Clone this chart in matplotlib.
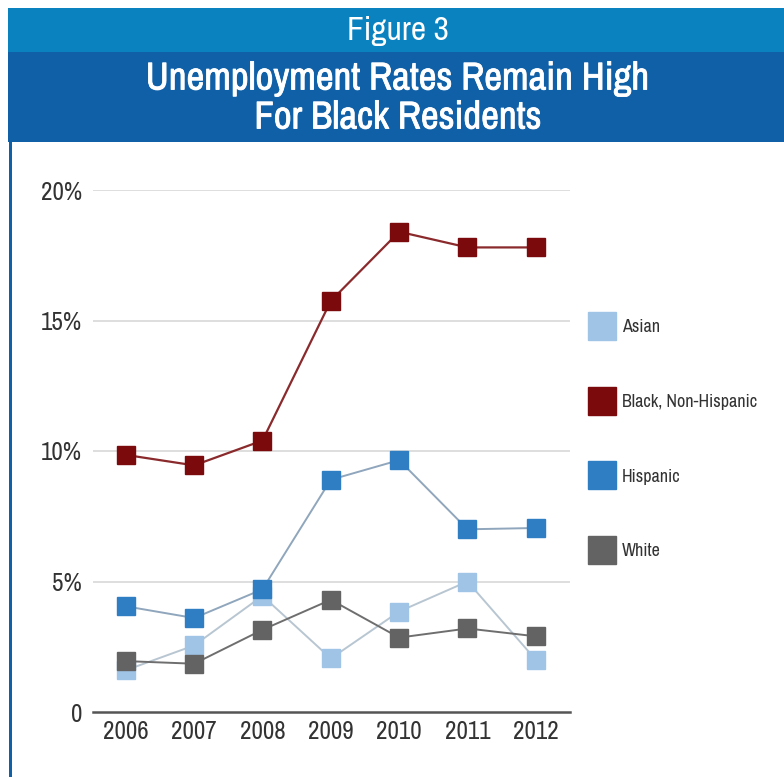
import matplotlib
matplotlib.use("Agg")
import matplotlib.pyplot as plt
from matplotlib.patches import Rectangle
from matplotlib.lines import Line2D
from matplotlib import font_manager
import matplotlib.patheffects as pe

years = ["2006", "2007", "2008", "2009", "2010", "2011", "2012"]
asian = [1.6, 2.55, 4.45, 2.05, 3.85, 5.0, 2.0]
black = [9.85, 9.45, 10.4, 15.75, 18.4, 17.8, 17.8]
hispanic = [4.05, 3.6, 4.7, 8.9, 9.65, 7.0, 7.05]
white = [1.95, 1.85, 3.15, 4.3, 2.85, 3.2, 2.9]
series_names = ["Asian", "Black, Non-Hispanic", "Hispanic", "White"]
ytick_vals = [0, 5, 10, 15, 20]
ytick_labels = ["0", "5%", "10%", "15%", "20%"]

# find a condensed font if any is installed
cond = None
for f in font_manager.fontManager.ttflist:
    n = f.name
    if ("Condensed" in n or "Narrow" in n) and f.style == "normal":
        cond = n
        break
if cond is None:
    for f in font_manager.fontManager.ttflist:
        if f.stretch in ("condensed", "semi-condensed") or (isinstance(f.stretch, int) and f.stretch < 500):
            cond = f.name
            break
narrow = [cond, "DejaVu Sans"] if cond else ["DejaVu Sans"]
stretch = "condensed"

W, H = 784, 777
fig = plt.figure(figsize=(W / 100, H / 100), dpi=100)
fig.patch.set_facecolor("white")

# header bands
fig.add_artist(Rectangle((8 / W, 1 - 52 / H), 1 - 8 / W, 44 / H, transform=fig.transFigure,
                         facecolor="#0a82c0", edgecolor="none"))
fig.add_artist(Rectangle((8 / W, 1 - 142 / H), 1 - 8 / W, 90 / H, transform=fig.transFigure,
                         facecolor="#1060a8", edgecolor="none"))
fig.add_artist(Rectangle((9 / W, 0), 3 / W, 1 - 142 / H, transform=fig.transFigure,
                         facecolor="#1060a8", edgecolor="none"))
fig.text(398 / W, 1 - 31 / H, "Figure 3", color="white", fontsize=24, ha="center", va="center",
         family=narrow, fontstretch=stretch)
bold_fx = [pe.withStroke(linewidth=0.6, foreground="white")]
fig.text(398 / W, 1 - 79 / H, "Unemployment Rates Remain High", color="white",
         fontsize=28, ha="center", va="center", family=narrow, fontstretch=stretch,
         fontweight="medium", path_effects=bold_fx)
fig.text(398 / W, 1 - 118 / H, "For Black Residents", color="white",
         fontsize=28, ha="center", va="center", family=narrow, fontstretch=stretch,
         fontweight="medium", path_effects=bold_fx)

ax = fig.add_axes([93 / W, 1 - 712 / H, (570 - 93) / W, (712 - 190) / H])
x = list(range(len(years)))
colors = ["#9fc4e6", "#7a0a0c", "#2f7ec3", "#636363"]
linecolors = ["#b8c6d2", "#8a2a2c", "#8fa6bc", "#6e6e6e"]
data = [asian, black, hispanic, white]
order = [0, 3, 2, 1]
for i in order:
    ax.plot(x, data[i], color=linecolors[i], lw=1.6 if i == 1 else 1.4, zorder=2 + i)
    ax.plot(x, data[i], ls="none", marker="s", markersize=12.5, color=colors[i],
            markeredgecolor=colors[i], zorder=3 + i)

ax.set_xlim(-0.48, 6.5)
ax.set_ylim(0, 20)
ax.set_xticks(x)
ax.set_xticklabels(years, family=narrow, fontstretch=stretch, fontsize=18, color="#333333")
ax.set_yticks(ytick_vals)
ax.set_yticklabels(ytick_labels, family=narrow, fontstretch=stretch, fontsize=18, color="#333333")
ax.tick_params(length=0, pad=8)
ax.tick_params(axis="x", pad=6)
for y in ytick_vals[1:]:
    ax.axhline(y, color="#d8d8d8", lw=1.2, zorder=0)
for s in ["top", "right", "left"]:
    ax.spines[s].set_visible(False)
ax.spines["bottom"].set_color("#555555")
ax.spines["bottom"].set_linewidth(1.8)
ax.patch.set_alpha(0)

handles = [Line2D([], [], ls="none", marker="s", markersize=20, color=c) for c in colors]
leg = fig.legend(handles, series_names, loc="upper left", bbox_to_anchor=(572 / W, 1 - 303 / H),
                 frameon=False, prop={"family": narrow, "size": 13, "stretch": stretch},
                 labelspacing=3.25, handletextpad=0.35, handlelength=1.5)
for t in leg.get_texts():
    t.set_color("#333333")

fig.savefig("out.png", dpi=100)
